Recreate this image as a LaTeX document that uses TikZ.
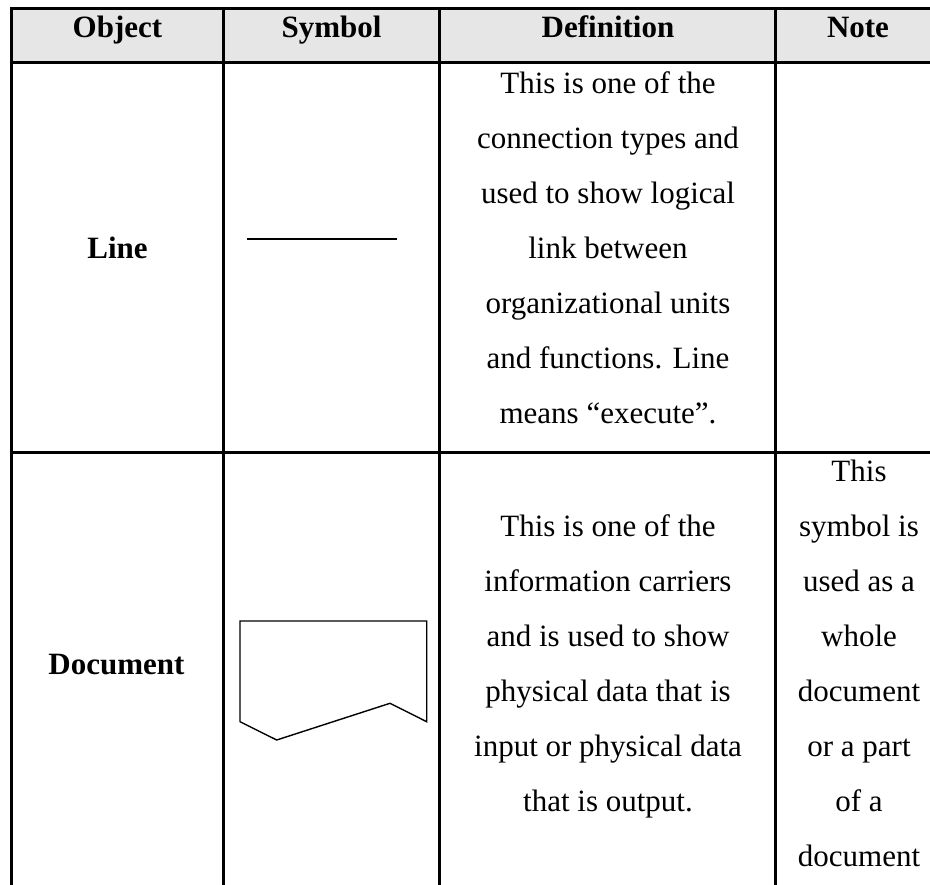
\documentclass[tikz,border=0pt]{standalone}
\usepackage{fontspec}
\setmainfont{Liberation Serif}
\definecolor{headgray}{HTML}{E6E6E6}
\begin{document}
\begin{tikzpicture}[x=1pt,y=-1pt,
  rule/.style={line width=3pt},
  cell/.style={anchor=base,inner sep=0pt,font=\fontsize{31}{37}\selectfont},
  head/.style={anchor=base,inner sep=0pt,font=\fontsize{31}{37}\selectfont\bfseries},
  glyph/.style={line width=1.4pt,line join=miter}]
\useasboundingbox (0,0) rectangle (930,885);
\clip (0,0) rectangle (930,885);

% header band
\fill[headgray] (11.8,8.8) rectangle (945,63);

% table rules
\foreach \yy in {8.8,63,452.7}
  \draw[rule] (10.3,\yy) -- (945,\yy);
\foreach \xx in {11.8,223.3,439.3,775}
  \draw[rule] (\xx,7.3) -- (\xx,895);

% header texts
\node[head] (hObject) at (117.5,37.3) {Object};
\node[head] (hSymbol) at (331.5,37.3) {Symbol};
\node[head] (hDefinition) at (608,37.3) {Definition};
\node[head] (hNote) at (858,37.3) {Note};

% row 1: Line
\node[head] (objLine) at (117.5,259) {Line};
\coordinate (lineA) at (247,239);
\coordinate (lineB) at (397,239);
\draw[glyph] (lineA) -- (lineB);
\foreach [count=\i] \t in {This is one of the,connection types and,used to show logical,link between,organizational units,and functions. Line,means “execute”.}
  \node[cell] (defLine\i) at (608,{94+55*(\i-1)}) {\t};

% row 2: Document
\node[head] (objDoc) at (116.5,674) {Document};
\coordinate (d1) at (240,621);
\coordinate (d2) at (426.7,621);
\coordinate (d3) at (426.7,721.7);
\coordinate (d4) at (390,703.3);
\coordinate (d5) at (276.7,740);
\coordinate (d6) at (240,721.7);
\draw[glyph] (d1) -- (d2) -- (d3) -- (d4) -- (d5) -- (d6) -- cycle;
\foreach [count=\i] \t in {This is one of the,information carriers,and is used to show,physical data that is,input or physical data,that is output.}
  \node[cell] (defDoc\i) at (608,{536.7+55*(\i-1)}) {\t};
\foreach [count=\i] \t in {This,symbol is,used as a,whole,document,or a part,of a,document}
  \node[cell] (noteDoc\i) at (859,{481.7+55*(\i-1)}) {\t};
\end{tikzpicture}
\end{document}
